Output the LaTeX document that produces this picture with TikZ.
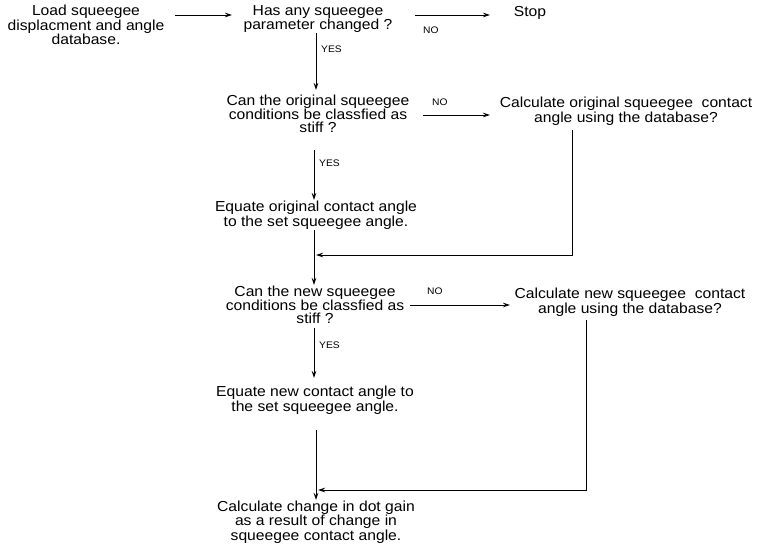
\documentclass[tikz,border=0pt]{standalone}
\usepackage{fontspec}
\setmainfont{Liberation Sans}[FakeStretch=1.08]
\usetikzlibrary{arrows.meta}
\tikzset{
  txt/.style={align=center,inner sep=0pt,font=\fontsize{14.5}{13}\selectfont},
  lbl/.style={inner sep=0pt,font=\fontsize{9.5}{10}\selectfont},
  arr/.style={line width=0.8pt,-{Stealth[length=7pt,width=4.5pt]}},
  ln/.style={line width=0.8pt}
}
\begin{document}
\begin{tikzpicture}[x=1pt,y=-1pt]
\useasboundingbox (0,0) rectangle (765,554);
% nodes
\node[txt] (load) at (86,25) {Load squeegee\\displacment and angle\\database.};
\node[txt] (q1) at (318,19) {Has any squeegee\\parameter changed ?};
\node[txt] (stop) at (530,13) {Stop};
\node[txt] (q2) at (318,114) {Can the original squeegee\\conditions be classfied as\\stiff ?};
\node[txt] (c1) at (626,111) {Calculate original squeegee \ contact\\angle using the database?};
\node[txt] (e1) at (316,215) {Equate original contact angle\\to the set squeegee angle.};
\node[txt] (q3) at (315,305) {Can the new squeegee\\conditions be classfied as\\stiff ?};
\node[txt] (c2) at (630,302) {Calculate new squeegee \ contact\\angle using the database?};
\node[txt] (e2) at (315,400) {Equate new contact angle to\\the set squeegee angle.};
\node[txt] (fin) at (316,522) {Calculate change in dot gain\\as a result of change in\\squeegee contact angle.};
% junction coordinates
\coordinate (a1s) at (175,15);
\coordinate (a1e) at (232,15);
\coordinate (a2s) at (415,15);
\coordinate (a2e) at (490,15);
\coordinate (r1) at (572,130);
\coordinate (j1) at (316,255);
\coordinate (r2) at (586,320);
\coordinate (j2) at (318,490);
% connectors
\draw[arr] (a1s) -- (a1e);
\draw[arr] (a2s) -- (a2e);
\node[lbl,anchor=west] (no1) at (423,30) {NO};
\draw[arr] (316,33) -- (316,90);
\node[lbl,anchor=west] (yes1) at (321,49) {YES};
\draw[arr] (423,115) -- (490,115);
\node[lbl,anchor=west] (no2) at (432,102) {NO};
\draw[arr] (314,150) -- (314,200);
\node[lbl,anchor=west] (yes2) at (319,163) {YES};
\draw[arr] (r1) |- (j1);
\draw[arr] (314,230) -- (314,285);
\draw[arr] (410,305) -- (510,305);
\node[lbl,anchor=west] (no3) at (427,291) {NO};
\draw[arr] (314,328) -- (314,378);
\node[lbl,anchor=west] (yes3) at (319,345) {YES};
\draw[arr] (r2) |- (j2);
\draw[arr] (316,430) -- (316,500);
\end{tikzpicture}
\end{document}
